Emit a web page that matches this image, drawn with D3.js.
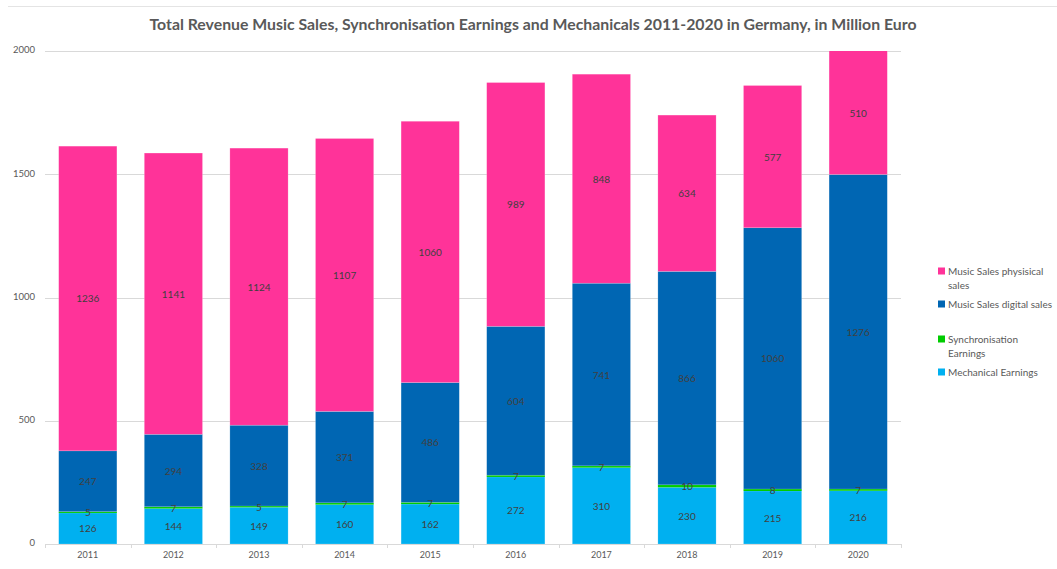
<!DOCTYPE html>
<html>
<head>
<meta charset="utf-8">
<script src="https://cdn.jsdelivr.net/npm/d3@7"></script>
<style>
  html, body { margin: 0; padding: 0; background: #fff; }
  svg { display: block; font-family: Lato, "Open Sans", sans-serif; }
</style>
</head>
<body>
<svg id="chart" width="1057" height="569"></svg>
<script>
// Revenue in million euro, Germany 2011-2020
const years = ["2011","2012","2013","2014","2015","2016","2017","2018","2019","2020"];
const mechanical = [126,144,149,160,162,272,310,230,215,216];
const synchronisation = [5,7,5,7,7,7,7,10,8,7];
const digital = [247,294,328,371,486,604,741,866,1060,1276];
const physical = [1236,1141,1124,1107,1060,989,848,634,577,510];
const yTicks = [0,500,1000,1500,2000];

const seriesDefs = [
  { key: "mechanical", name: ["Mechanical Earnings"], values: mechanical, color: "#00B0F0" },
  { key: "sync", name: ["Synchronisation", "Earnings"], values: synchronisation, color: "#00CC00" },
  { key: "digital", name: ["Music Sales digital sales"], values: digital, color: "#0066B3" },
  { key: "physical", name: ["Music Sales physisical", "sales"], values: physical, color: "#FF3399" }
];

const rows = years.map((y, i) => {
  const r = { year: y };
  seriesDefs.forEach(s => r[s.key] = s.values[i]);
  return r;
});

const stack = d3.stack().keys(seriesDefs.map(s => s.key));
const layers = stack(rows);

const svg = d3.select("#chart");
const margin = { left: 45, right: 156, top: 51, bottom: 25 };
const W = 1057, H = 569;
const plotW = W - margin.left - margin.right;
const plotH = H - margin.top - margin.bottom;

// faint line along the top edge
svg.append("line")
  .attr("x1", 8).attr("x2", W).attr("y1", 6.5).attr("y2", 6.5)
  .attr("stroke", "#e4e4e4").attr("stroke-width", 1);

const x = d3.scaleBand().domain(years).range([margin.left, margin.left + plotW]).paddingInner(0.32).paddingOuter(0.16);
const y = d3.scaleLinear().domain([0, 2000]).range([margin.top + plotH, margin.top]);

// Title
svg.append("text")
  .attr("x", 533).attr("y", 30)
  .attr("text-anchor", "middle")
  .attr("font-size", 15.5).attr("font-weight", "bold")
  .attr("fill", "#595959")
  .attr("textLength", 767).attr("lengthAdjust", "spacingAndGlyphs")
  .text("Total Revenue Music Sales, Synchronisation Earnings and Mechanicals 2011-2020 in Germany, in Million Euro");

// Gridlines
svg.append("g")
  .selectAll("line")
  .data(yTicks.filter(t => t > 0))
  .join("line")
  .attr("x1", margin.left).attr("x2", margin.left + plotW)
  .attr("y1", d => Math.round(y(d)) + 0.5).attr("y2", d => Math.round(y(d)) + 0.5)
  .attr("stroke", "#d9d9d9").attr("stroke-width", 1);

// Y tick labels
svg.append("g")
  .selectAll("text")
  .data(yTicks)
  .join("text")
  .attr("x", 35).attr("y", d => y(d))
  .attr("text-anchor", "end").attr("dominant-baseline", "middle")
  .attr("font-size", 9.5).attr("fill", "#595959")
  .text(d => d);

// Clip the bars to the plot area
svg.append("clipPath").attr("id", "plotClip")
  .append("rect")
  .attr("x", margin.left).attr("y", margin.top)
  .attr("width", plotW).attr("height", plotH);

const barsG = svg.append("g").attr("clip-path", "url(#plotClip)");
layers.forEach((layer, li) => {
  barsG.append("g")
    .selectAll("rect")
    .data(layer)
    .join("rect")
    .attr("x", d => x(d.data.year))
    .attr("width", x.bandwidth())
    .attr("y", d => y(d[1]))
    .attr("height", d => y(d[0]) - y(d[1]))
    .attr("fill", seriesDefs[li].color)
    .attr("stroke", li === 1 ? "none" : "rgba(255,255,255,0.3)")
    .attr("stroke-width", 0.6);
});

// X axis
const xAxisY = y(0);
const axisG = svg.append("g");
axisG.append("line")
  .attr("x1", margin.left).attr("x2", margin.left + plotW)
  .attr("y1", xAxisY + 0.5).attr("y2", xAxisY + 0.5)
  .attr("stroke", "#d9d9d9");
const step = x.step();
const boundaries = d3.range(years.length + 1).map(i => margin.left + i * step);
axisG.selectAll("line.tick")
  .data(boundaries)
  .join("line")
  .attr("class", "tick")
  .attr("x1", d => Math.round(d) + 0.5).attr("x2", d => Math.round(d) + 0.5)
  .attr("y1", xAxisY).attr("y2", xAxisY + 4)
  .attr("stroke", "#d9d9d9");
axisG.selectAll("text")
  .data(years)
  .join("text")
  .attr("x", d => x(d) + x.bandwidth() / 2)
  .attr("y", xAxisY + 14)
  .attr("text-anchor", "middle")
  .attr("font-size", 9).attr("fill", "#595959")
  .text(d => d);

// Value labels centred in each segment
const labelsG = svg.append("g");
layers.forEach(layer => {
  labelsG.append("g")
    .selectAll("text")
    .data(layer)
    .join("text")
    .attr("x", d => x(d.data.year) + x.bandwidth() / 2)
    .attr("y", d => y((Math.min(d[0], 2000) + Math.min(d[1], 2000)) / 2))
    .attr("text-anchor", "middle").attr("dominant-baseline", "central")
    .attr("font-size", 10).attr("fill", "#404040")
    .text(d => d[1] - d[0]);
});

// Legend
const legendItems = [
  { s: seriesDefs[3], y: 271 },
  { s: seriesDefs[2], y: 304 },
  { s: seriesDefs[1], y: 339 },
  { s: seriesDefs[0], y: 372 }
];
const lg = svg.append("g");
legendItems.forEach(it => {
  lg.append("rect")
    .attr("x", 938).attr("y", it.y - 3.5)
    .attr("width", 7).attr("height", 7)
    .attr("fill", it.s.color);
  it.s.name.forEach((line, k) => {
    lg.append("text")
      .attr("x", 948).attr("y", it.y + k * 14)
      .attr("dominant-baseline", "central")
      .attr("font-size", 10).attr("fill", "#595959")
      .text(line);
  });
});
</script>
</body>
</html>
